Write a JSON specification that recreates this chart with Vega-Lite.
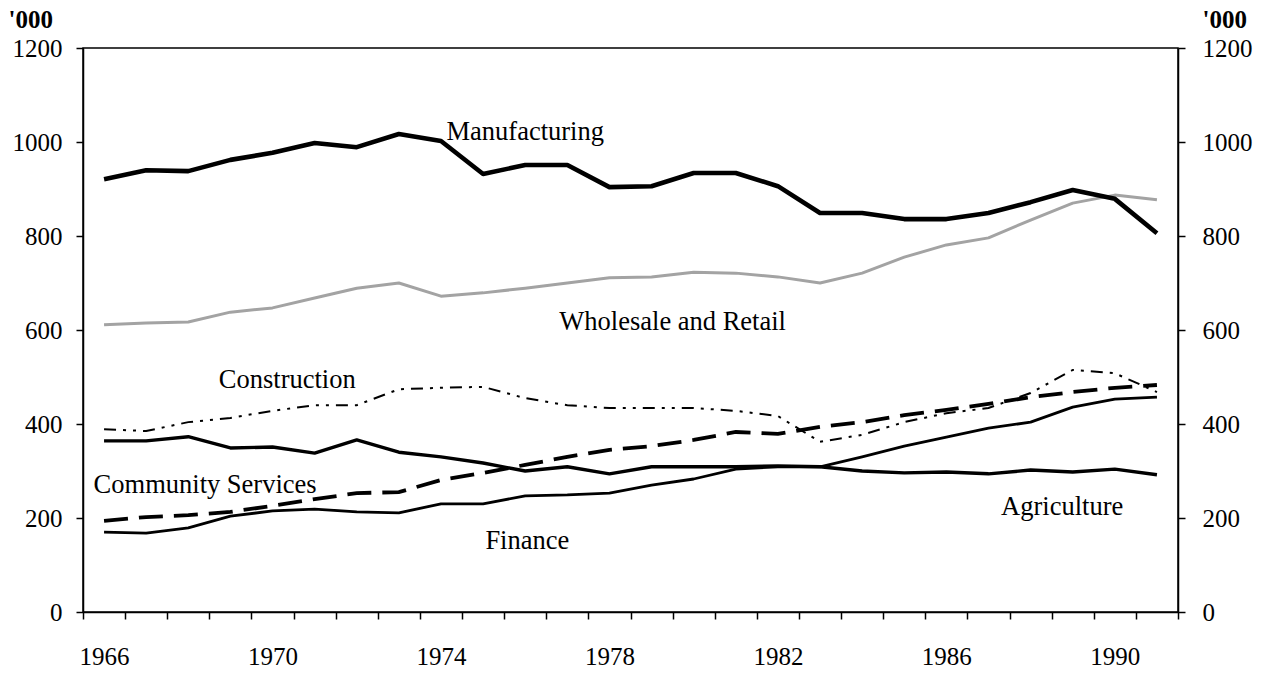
{
  "$schema": "https://vega.github.io/schema/vega-lite/v6.json",
  "width": 1095,
  "height": 564,
  "autosize": {"type": "none"},
  "padding": {"left": 83, "top": 48, "right": 86, "bottom": 61},
  "background": "white",
  "config": {
    "font": "Liberation Serif",
    "view": {"stroke": "black", "strokeWidth": 1.5},
    "axis": {
      "grid": false,
      "domainColor": "black",
      "domainWidth": 1.5,
      "tickColor": "black",
      "tickWidth": 1.5,
      "labelColor": "black",
      "labelFont": "Liberation Serif",
      "labelFontSize": 25,
      "titleFont": "Liberation Serif",
      "titleColor": "black"
    }
  },
  "datasets": {
    "series": [
      {"series": "Manufacturing", "year": 1966, "value": 921},
      {"series": "Manufacturing", "year": 1967, "value": 940},
      {"series": "Manufacturing", "year": 1968, "value": 938},
      {"series": "Manufacturing", "year": 1969, "value": 962},
      {"series": "Manufacturing", "year": 1970, "value": 977},
      {"series": "Manufacturing", "year": 1971, "value": 998},
      {"series": "Manufacturing", "year": 1972, "value": 989},
      {"series": "Manufacturing", "year": 1973, "value": 1017},
      {"series": "Manufacturing", "year": 1974, "value": 1002},
      {"series": "Manufacturing", "year": 1975, "value": 932},
      {"series": "Manufacturing", "year": 1976, "value": 951},
      {"series": "Manufacturing", "year": 1977, "value": 951},
      {"series": "Manufacturing", "year": 1978, "value": 904},
      {"series": "Manufacturing", "year": 1979, "value": 906},
      {"series": "Manufacturing", "year": 1980, "value": 934},
      {"series": "Manufacturing", "year": 1981, "value": 934},
      {"series": "Manufacturing", "year": 1982, "value": 906},
      {"series": "Manufacturing", "year": 1983, "value": 849},
      {"series": "Manufacturing", "year": 1984, "value": 849},
      {"series": "Manufacturing", "year": 1985, "value": 836},
      {"series": "Manufacturing", "year": 1986, "value": 836},
      {"series": "Manufacturing", "year": 1987, "value": 849},
      {"series": "Manufacturing", "year": 1988, "value": 872},
      {"series": "Manufacturing", "year": 1989, "value": 898},
      {"series": "Manufacturing", "year": 1990, "value": 879},
      {"series": "Manufacturing", "year": 1991, "value": 806},
      {"series": "Wholesale and Retail", "year": 1966, "value": 611},
      {"series": "Wholesale and Retail", "year": 1967, "value": 615},
      {"series": "Wholesale and Retail", "year": 1968, "value": 617},
      {"series": "Wholesale and Retail", "year": 1969, "value": 638},
      {"series": "Wholesale and Retail", "year": 1970, "value": 647},
      {"series": "Wholesale and Retail", "year": 1971, "value": 668},
      {"series": "Wholesale and Retail", "year": 1972, "value": 689},
      {"series": "Wholesale and Retail", "year": 1973, "value": 700},
      {"series": "Wholesale and Retail", "year": 1974, "value": 672},
      {"series": "Wholesale and Retail", "year": 1975, "value": 679},
      {"series": "Wholesale and Retail", "year": 1976, "value": 689},
      {"series": "Wholesale and Retail", "year": 1977, "value": 700},
      {"series": "Wholesale and Retail", "year": 1978, "value": 711},
      {"series": "Wholesale and Retail", "year": 1979, "value": 713},
      {"series": "Wholesale and Retail", "year": 1980, "value": 723},
      {"series": "Wholesale and Retail", "year": 1981, "value": 721},
      {"series": "Wholesale and Retail", "year": 1982, "value": 713},
      {"series": "Wholesale and Retail", "year": 1983, "value": 700},
      {"series": "Wholesale and Retail", "year": 1984, "value": 721},
      {"series": "Wholesale and Retail", "year": 1985, "value": 755},
      {"series": "Wholesale and Retail", "year": 1986, "value": 781},
      {"series": "Wholesale and Retail", "year": 1987, "value": 796},
      {"series": "Wholesale and Retail", "year": 1988, "value": 834},
      {"series": "Wholesale and Retail", "year": 1989, "value": 870},
      {"series": "Wholesale and Retail", "year": 1990, "value": 887},
      {"series": "Wholesale and Retail", "year": 1991, "value": 877},
      {"series": "Construction", "year": 1966, "value": 389},
      {"series": "Construction", "year": 1967, "value": 385},
      {"series": "Construction", "year": 1968, "value": 404},
      {"series": "Construction", "year": 1969, "value": 413},
      {"series": "Construction", "year": 1970, "value": 428},
      {"series": "Construction", "year": 1971, "value": 440},
      {"series": "Construction", "year": 1972, "value": 440},
      {"series": "Construction", "year": 1973, "value": 474},
      {"series": "Construction", "year": 1974, "value": 477},
      {"series": "Construction", "year": 1975, "value": 479},
      {"series": "Construction", "year": 1976, "value": 455},
      {"series": "Construction", "year": 1977, "value": 440},
      {"series": "Construction", "year": 1978, "value": 434},
      {"series": "Construction", "year": 1979, "value": 434},
      {"series": "Construction", "year": 1980, "value": 434},
      {"series": "Construction", "year": 1981, "value": 428},
      {"series": "Construction", "year": 1982, "value": 417},
      {"series": "Construction", "year": 1983, "value": 362},
      {"series": "Construction", "year": 1984, "value": 377},
      {"series": "Construction", "year": 1985, "value": 404},
      {"series": "Construction", "year": 1986, "value": 423},
      {"series": "Construction", "year": 1987, "value": 434},
      {"series": "Construction", "year": 1988, "value": 466},
      {"series": "Construction", "year": 1989, "value": 515},
      {"series": "Construction", "year": 1990, "value": 508},
      {"series": "Construction", "year": 1991, "value": 468},
      {"series": "Community Services", "year": 1966, "value": 194},
      {"series": "Community Services", "year": 1967, "value": 202},
      {"series": "Community Services", "year": 1968, "value": 206},
      {"series": "Community Services", "year": 1969, "value": 213},
      {"series": "Community Services", "year": 1970, "value": 226},
      {"series": "Community Services", "year": 1971, "value": 240},
      {"series": "Community Services", "year": 1972, "value": 253},
      {"series": "Community Services", "year": 1973, "value": 255},
      {"series": "Community Services", "year": 1974, "value": 281},
      {"series": "Community Services", "year": 1975, "value": 296},
      {"series": "Community Services", "year": 1976, "value": 313},
      {"series": "Community Services", "year": 1977, "value": 330},
      {"series": "Community Services", "year": 1978, "value": 345},
      {"series": "Community Services", "year": 1979, "value": 353},
      {"series": "Community Services", "year": 1980, "value": 366},
      {"series": "Community Services", "year": 1981, "value": 383},
      {"series": "Community Services", "year": 1982, "value": 379},
      {"series": "Community Services", "year": 1983, "value": 394},
      {"series": "Community Services", "year": 1984, "value": 404},
      {"series": "Community Services", "year": 1985, "value": 419},
      {"series": "Community Services", "year": 1986, "value": 430},
      {"series": "Community Services", "year": 1987, "value": 443},
      {"series": "Community Services", "year": 1988, "value": 457},
      {"series": "Community Services", "year": 1989, "value": 468},
      {"series": "Community Services", "year": 1990, "value": 477},
      {"series": "Community Services", "year": 1991, "value": 483},
      {"series": "Agriculture", "year": 1966, "value": 364},
      {"series": "Agriculture", "year": 1967, "value": 364},
      {"series": "Agriculture", "year": 1968, "value": 373},
      {"series": "Agriculture", "year": 1969, "value": 349},
      {"series": "Agriculture", "year": 1970, "value": 351},
      {"series": "Agriculture", "year": 1971, "value": 338},
      {"series": "Agriculture", "year": 1972, "value": 366},
      {"series": "Agriculture", "year": 1973, "value": 340},
      {"series": "Agriculture", "year": 1974, "value": 330},
      {"series": "Agriculture", "year": 1975, "value": 317},
      {"series": "Agriculture", "year": 1976, "value": 300},
      {"series": "Agriculture", "year": 1977, "value": 309},
      {"series": "Agriculture", "year": 1978, "value": 294},
      {"series": "Agriculture", "year": 1979, "value": 309},
      {"series": "Agriculture", "year": 1980, "value": 309},
      {"series": "Agriculture", "year": 1981, "value": 309},
      {"series": "Agriculture", "year": 1982, "value": 311},
      {"series": "Agriculture", "year": 1983, "value": 309},
      {"series": "Agriculture", "year": 1984, "value": 300},
      {"series": "Agriculture", "year": 1985, "value": 296},
      {"series": "Agriculture", "year": 1986, "value": 298},
      {"series": "Agriculture", "year": 1987, "value": 294},
      {"series": "Agriculture", "year": 1988, "value": 302},
      {"series": "Agriculture", "year": 1989, "value": 298},
      {"series": "Agriculture", "year": 1990, "value": 304},
      {"series": "Agriculture", "year": 1991, "value": 292},
      {"series": "Finance", "year": 1966, "value": 170},
      {"series": "Finance", "year": 1967, "value": 168},
      {"series": "Finance", "year": 1968, "value": 179},
      {"series": "Finance", "year": 1969, "value": 204},
      {"series": "Finance", "year": 1970, "value": 215},
      {"series": "Finance", "year": 1971, "value": 219},
      {"series": "Finance", "year": 1972, "value": 213},
      {"series": "Finance", "year": 1973, "value": 211},
      {"series": "Finance", "year": 1974, "value": 230},
      {"series": "Finance", "year": 1975, "value": 230},
      {"series": "Finance", "year": 1976, "value": 247},
      {"series": "Finance", "year": 1977, "value": 249},
      {"series": "Finance", "year": 1978, "value": 253},
      {"series": "Finance", "year": 1979, "value": 270},
      {"series": "Finance", "year": 1980, "value": 283},
      {"series": "Finance", "year": 1981, "value": 304},
      {"series": "Finance", "year": 1982, "value": 309},
      {"series": "Finance", "year": 1983, "value": 309},
      {"series": "Finance", "year": 1984, "value": 330},
      {"series": "Finance", "year": 1985, "value": 353},
      {"series": "Finance", "year": 1986, "value": 372},
      {"series": "Finance", "year": 1987, "value": 391},
      {"series": "Finance", "year": 1988, "value": 404},
      {"series": "Finance", "year": 1989, "value": 436},
      {"series": "Finance", "year": 1990, "value": 453},
      {"series": "Finance", "year": 1991, "value": 457}
    ],
    "labels": [
      {"label": "Manufacturing", "year": 1976.0, "value": 1021},
      {"label": "Wholesale and Retail", "year": 1979.5, "value": 617},
      {"label": "Construction", "year": 1970.35, "value": 494},
      {"label": "Community Services", "year": 1968.4, "value": 270},
      {"label": "Finance", "year": 1976.05, "value": 151},
      {"label": "Agriculture", "year": 1988.75, "value": 223}
    ]
  },
  "layer": [
    {
      "data": {"name": "series"},
      "transform": [{"filter": "datum.series === 'Wholesale and Retail'"}],
      "mark": {"type": "line", "color": "#a3a3a3", "strokeWidth": 3, "strokeJoin": "round"},
      "encoding": {
        "x": {"field": "year", "type": "quantitative", "scale": {"domain": [1965.5, 1991.5], "nice": false, "zero": false},
          "axis": {"orient": "bottom", "values": [1965.5,1966.5,1967.5,1968.5,1969.5,1970.5,1971.5,1972.5,1973.5,1974.5,1975.5,1976.5,1977.5,1978.5,1979.5,1980.5,1981.5,1982.5,1983.5,1984.5,1985.5,1986.5,1987.5,1988.5,1989.5,1990.5,1991.5], "labels": false, "tickSize": 7, "title": null}},
        "y": {"field": "value", "type": "quantitative", "scale": {"domain": [0, 1200], "nice": false},
          "axis": {"orient": "left", "values": [0,200,400,600,800,1000,1200], "format": "d", "tickSize": 7, "labelPadding": 14,
            "title": "'000", "titleAngle": 0, "titleFontSize": 25, "titleFontWeight": "bold", "titleAlign": "left", "titleBaseline": "alphabetic", "titleX": -75, "titleY": -21}}
      }
    },
    {
      "data": {"name": "series"},
      "transform": [{"filter": "datum.series === 'Construction'"}],
      "mark": {"type": "line", "color": "black", "strokeWidth": 2, "strokeDash": [12, 7, 3, 7, 3, 7]},
      "encoding": {
        "x": {"field": "year", "type": "quantitative", "axis": null},
        "y": {"field": "value", "type": "quantitative", "axis": null}
      }
    },
    {
      "data": {"name": "series"},
      "transform": [{"filter": "datum.series === 'Community Services'"}],
      "mark": {"type": "line", "color": "black", "strokeWidth": 3.8, "strokeDash": [24, 11]},
      "encoding": {
        "x": {"field": "year", "type": "quantitative", "axis": null},
        "y": {"field": "value", "type": "quantitative", "axis": null}
      }
    },
    {
      "data": {"name": "series"},
      "transform": [{"filter": "datum.series === 'Finance'"}],
      "mark": {"type": "line", "color": "black", "strokeWidth": 2.8, "strokeJoin": "round"},
      "encoding": {
        "x": {"field": "year", "type": "quantitative", "axis": null},
        "y": {"field": "value", "type": "quantitative", "axis": null}
      }
    },
    {
      "data": {"name": "series"},
      "transform": [{"filter": "datum.series === 'Agriculture'"}],
      "mark": {"type": "line", "color": "black", "strokeWidth": 3.4, "strokeJoin": "round"},
      "encoding": {
        "x": {"field": "year", "type": "quantitative", "axis": null},
        "y": {"field": "value", "type": "quantitative", "axis": null}
      }
    },
    {
      "data": {"name": "series"},
      "transform": [{"filter": "datum.series === 'Manufacturing'"}],
      "mark": {"type": "line", "color": "black", "strokeWidth": 4.6, "strokeJoin": "round"},
      "encoding": {
        "x": {"field": "year", "type": "quantitative", "axis": null},
        "y": {"field": "value", "type": "quantitative", "axis": null}
      }
    },
    {
      "data": {"name": "labels"},
      "mark": {"type": "text", "fontSize": 26.5, "font": "Liberation Serif", "color": "black", "align": "center", "baseline": "middle"},
      "encoding": {
        "x": {"field": "year", "type": "quantitative",
          "axis": {"orient": "bottom", "values": [1966,1970,1974,1978,1982,1986,1990], "ticks": false, "tickSize": 0, "domain": false, "labelPadding": 32, "title": null, "format": "d"}},
        "y": {"field": "value", "type": "quantitative",
          "axis": {"orient": "right", "values": [0,200,400,600,800,1000,1200], "format": "d", "tickSize": 7, "labelPadding": 17,
            "title": "'000", "titleAngle": 0, "titleFontSize": 25, "titleFontWeight": "bold", "titleAlign": "left", "titleBaseline": "alphabetic", "titleX": 24, "titleY": -21}},
        "text": {"field": "label", "type": "nominal"}
      }
    }
  ],
  "resolve": {"axis": {"x": "independent", "y": "independent"}}
}
